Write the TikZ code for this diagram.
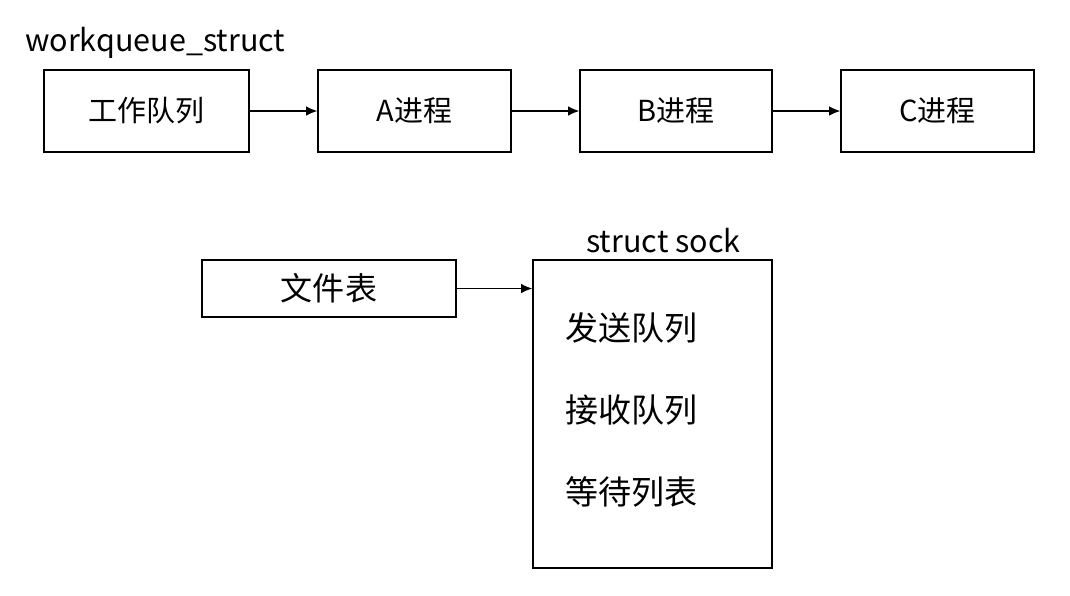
\documentclass[tikz,border=0pt]{standalone}
\usepackage{fontspec}
\setmainfont{Noto Sans CJK SC}
\usetikzlibrary{arrows.meta}
\begin{document}
\begin{tikzpicture}[x=0.025cm, y=-0.025cm,
    box/.style={draw, line width=0.9pt, inner sep=0pt, font=\fontsize{20.6}{24}\selectfont},
    link/.style={-{Latex[length=2.8mm,width=2.4mm]}, line width=1pt}]
  \useasboundingbox (0,0) rectangle (1070,595);

  % Titles
  \node[anchor=west, inner sep=0pt, font=\fontsize{21.7}{24}\selectfont] (wqtitle) at (25,43) {workqueue\_struct};
  \node[anchor=west, inner sep=0pt, font=\fontsize{21.7}{24}\selectfont] (socktitle) at (586,241) {struct sock};

  % Work queue chain
  \node[box, minimum width=5.125cm, minimum height=2.05cm] (queue) at (146.5,111) {工作队列};
  \node[box, minimum width=4.825cm, minimum height=2.05cm] (procA) at (414.5,111) {A进程};
  \node[box, minimum width=4.8cm, minimum height=2.05cm] (procB) at (676,111) {B进程};
  \node[box, minimum width=4.825cm, minimum height=2.05cm] (procC) at (937.5,111) {C进程};
  \draw[link] (queue) -- (procA);
  \draw[link] (procA) -- (procB);
  \draw[link] (procB) -- (procC);

  % File table and sock
  \node[box, minimum width=6.35cm, minimum height=1.425cm, font=\fontsize{22.8}{26}\selectfont] (files) at (329,288.5) {文件表};
  \node[box, minimum width=5.975cm, minimum height=7.7cm] (sock) at (652.5,414) {};
  \draw[link] (files.east) -- (files.east -| sock.west);

  % Queues inside sock
  \node[anchor=west, inner sep=0pt, font=\fontsize{23.5}{26}\selectfont] (sendq) at (565,328) {发送队列};
  \node[anchor=west, inner sep=0pt, font=\fontsize{23.5}{26}\selectfont] (recvq) at (565,410) {接收队列};
  \node[anchor=west, inner sep=0pt, font=\fontsize{23.5}{26}\selectfont] (waitq) at (565,492) {等待列表};
\end{tikzpicture}
\end{document}
